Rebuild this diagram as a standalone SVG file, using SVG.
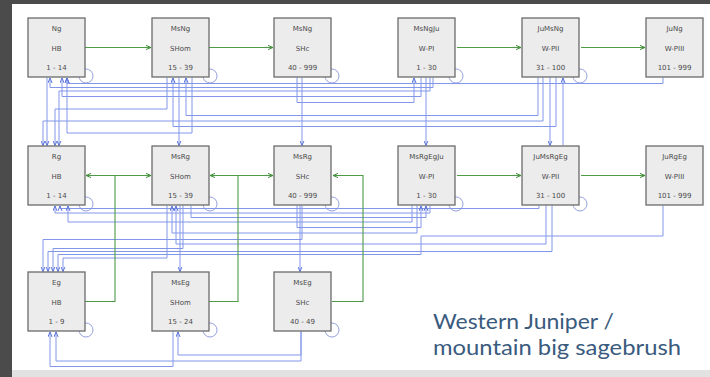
<svg xmlns="http://www.w3.org/2000/svg" width="710" height="377" viewBox="0 0 710 377">
<style>
.box{fill:#ececec;stroke:#6b6b6b;stroke-width:1.3}
.t{font-family:"DejaVu Sans",Verdana,sans-serif;font-size:7px;fill:#4a4a4a;text-anchor:middle}
.b{fill:none;stroke:#8297ea;stroke-width:1}
.g{fill:none;stroke:#4f9a47;stroke-width:1.1}
.loop{fill:none;stroke:#95a1dc;stroke-width:1}
.ttl{font-family:Lato,"Open Sans",sans-serif;font-size:21px;fill:#3a5a7e}
</style>
<defs>
<marker id="ab" viewBox="0 0 6 6" refX="6" refY="3" markerWidth="5" markerHeight="5" markerUnits="userSpaceOnUse" orient="auto"><path d="M0,0.5 L6,3 L0,5.5" fill="none" stroke="#5c73d8" stroke-width="1.2"/></marker>
<marker id="ag" viewBox="0 0 6 6" refX="6" refY="3" markerWidth="5" markerHeight="5" markerUnits="userSpaceOnUse" orient="auto"><path d="M0,0.5 L6,3 L0,5.5" fill="none" stroke="#3d8a36" stroke-width="1.2"/></marker>
</defs>
<rect x="0" y="0" width="710" height="377" fill="#4b4b4b"/>
<rect x="12" y="4" width="698" height="366" fill="#ffffff"/>
<rect x="12" y="370" width="698" height="7" fill="#e2e2e2"/>

<g id="connectors">
<g id="loops">
<circle class="loop" cx="86" cy="76" r="7"/>
<circle class="loop" cx="210" cy="76" r="7"/>
<circle class="loop" cx="332" cy="76" r="7"/>
<circle class="loop" cx="456" cy="76" r="7"/>
<circle class="loop" cx="580" cy="76" r="7"/>
<circle class="loop" cx="86" cy="204" r="7"/>
<circle class="loop" cx="210" cy="204" r="7"/>
<circle class="loop" cx="332" cy="204" r="7"/>
<circle class="loop" cx="456" cy="204" r="7"/>
<circle class="loop" cx="580" cy="204" r="7"/>
<circle class="loop" cx="86" cy="330" r="7"/>
<circle class="loop" cx="210" cy="330" r="7"/>
<circle class="loop" cx="332" cy="330" r="7"/>
</g>
<g id="blue" marker-end="url(#ab)">
<path class="b" d="M663,77.5 V83.5 H67 V78"/>
<path class="b" d="M192,77.5 V133 H67 V78"/>
<path class="b" d="M433,77.5 V87.5 H50 V78"/>
<path class="b" d="M430,77.5 V91 H59 V145.5"/>
<path class="b" d="M421,77.5 V96.5 H62 V78"/>
<path class="b" d="M297,77.5 V102.5 H414 V78"/>
<path class="b" d="M167,77.5 V109 H55 V145.5"/>
<path class="b" d="M538,77.5 V115.5 H186 V78"/>
<path class="b" d="M543,77.5 V121 H43 V145.5"/>
<path class="b" d="M556,77.5 V126.5 H173 V78"/>
<path class="b" d="M179,77.5 V145.5"/>
<path class="b" d="M302,77.5 V145.5"/>
<path class="b" d="M426,77.5 V145.5"/>
<path class="b" d="M550,77.5 V145.5"/>
<path class="b" d="M563,145.5 V78"/>
<path class="b" d="M47,77.5 V145.5"/>

<path class="b" d="M539,205.5 V208.5 H60 V206"/>
<path class="b" d="M430,205.5 V213 H55 V206"/>
<path class="b" d="M191,205.5 V217.5 H426 V206"/>
<path class="b" d="M412,205.5 V222 H68 V206"/>
<path class="b" d="M297,205.5 V227.5 H421 V206"/>
<path class="b" d="M417,205.5 V233 H172 V206"/>
<path class="b" d="M663,205.5 V236 H421 V254.5 H58 V271.5"/>
<path class="b" d="M302,205.5 V239.5 H43 V271.5"/>
<path class="b" d="M546,205.5 V244 H176 V206"/>
<path class="b" d="M183,205.5 V248.5 H53 V271.5"/>
<path class="b" d="M552,205.5 V251.5 H48 V271.5"/>
<path class="b" d="M167,205.5 V258 H63 V271.5"/>
<path class="b" d="M180,205.5 V271.5"/>
<path class="b" d="M300,205.5 V271.5"/>

<path class="b" d="M301,331.5 V355 H178 V332"/>
<path class="b" d="M301,331.5 V361 H56 V332"/>
<path class="b" d="M173,331.5 V366.5 H50 V332"/>
</g>
<g id="green" marker-end="url(#ag)">
<path class="g" d="M85,47.5 H151"/>
<path class="g" d="M209,47.5 H273"/>
<path class="g" d="M457,47.5 H521"/>
<path class="g" d="M581,47.5 H645"/>
<path class="g" d="M85,301.5 H115 V175.5 H86"/>
<path class="g" d="M115,175.5 H151"/>
<path class="g" d="M209,301.5 H238 V175.5 H210"/>
<path class="g" d="M238,175.5 H273"/>
<path class="g" d="M332,301.5 H363 V175.5 H333"/>
<path class="g" d="M457,175.5 H521"/>
<path class="g" d="M581,175.5 H645"/>
</g>
</g>

<g id="Ng"><rect class="box" x="28" y="18" width="57" height="59"/><text class="t" x="56.5" y="31">Ng</text><text class="t" x="56.5" y="50.5">HB</text><text class="t" x="56.5" y="70">1 - 14</text></g>
<g id="MsNg"><rect class="box" x="152" y="18" width="57" height="59"/><text class="t" x="180.5" y="31">MsNg</text><text class="t" x="180.5" y="50.5">SHom</text><text class="t" x="180.5" y="70">15 - 39</text></g>
<g id="MsNg-SHc"><rect class="box" x="274" y="18" width="57" height="59"/><text class="t" x="302.5" y="31">MsNg</text><text class="t" x="302.5" y="50.5">SHc</text><text class="t" x="302.5" y="70">40 - 999</text></g>
<g id="MsNgJu"><rect class="box" x="398" y="18" width="57" height="59"/><text class="t" x="426.5" y="31">MsNgJu</text><text class="t" x="426.5" y="50.5">W-PI</text><text class="t" x="426.5" y="70">1 - 30</text></g>
<g id="JuMsNg"><rect class="box" x="522" y="18" width="57" height="59"/><text class="t" x="550.5" y="31">JuMsNg</text><text class="t" x="550.5" y="50.5">W-PII</text><text class="t" x="550.5" y="70">31 - 100</text></g>
<g id="JuNg"><rect class="box" x="646" y="18" width="57" height="59"/><text class="t" x="674.5" y="31">JuNg</text><text class="t" x="674.5" y="50.5">W-PIII</text><text class="t" x="674.5" y="70">101 - 999</text></g>

<g id="Rg"><rect class="box" x="28" y="146" width="57" height="59"/><text class="t" x="56.5" y="159">Rg</text><text class="t" x="56.5" y="178.5">HB</text><text class="t" x="56.5" y="198">1 - 14</text></g>
<g id="MsRg"><rect class="box" x="152" y="146" width="57" height="59"/><text class="t" x="180.5" y="159">MsRg</text><text class="t" x="180.5" y="178.5">SHom</text><text class="t" x="180.5" y="198">15 - 39</text></g>
<g id="MsRg-SHc"><rect class="box" x="274" y="146" width="57" height="59"/><text class="t" x="302.5" y="159">MsRg</text><text class="t" x="302.5" y="178.5">SHc</text><text class="t" x="302.5" y="198">40 - 999</text></g>
<g id="MsRgEgJu"><rect class="box" x="398" y="146" width="57" height="59"/><text class="t" x="426.5" y="159">MsRgEgJu</text><text class="t" x="426.5" y="178.5">W-PI</text><text class="t" x="426.5" y="198">1 - 30</text></g>
<g id="JuMsRgEg"><rect class="box" x="522" y="146" width="57" height="59"/><text class="t" x="550.5" y="159">JuMsRgEg</text><text class="t" x="550.5" y="178.5">W-PII</text><text class="t" x="550.5" y="198">31 - 100</text></g>
<g id="JuRgEg"><rect class="box" x="646" y="146" width="57" height="59"/><text class="t" x="674.5" y="159">JuRgEg</text><text class="t" x="674.5" y="178.5">W-PIII</text><text class="t" x="674.5" y="198">101 - 999</text></g>

<g id="Eg"><rect class="box" x="28" y="272" width="57" height="59"/><text class="t" x="56.5" y="285">Eg</text><text class="t" x="56.5" y="304.5">HB</text><text class="t" x="56.5" y="324">1 - 9</text></g>
<g id="MsEg"><rect class="box" x="152" y="272" width="57" height="59"/><text class="t" x="180.5" y="285">MsEg</text><text class="t" x="180.5" y="304.5">SHom</text><text class="t" x="180.5" y="324">15 - 24</text></g>
<g id="MsEg-SHc"><rect class="box" x="274" y="272" width="57" height="59"/><text class="t" x="302.5" y="285">MsEg</text><text class="t" x="302.5" y="304.5">SHc</text><text class="t" x="302.5" y="324">40 - 49</text></g>

<g id="title">
<text class="ttl" x="433" y="329" textLength="181" lengthAdjust="spacingAndGlyphs">Western Juniper /</text>
<text class="ttl" x="433" y="355" textLength="248" lengthAdjust="spacingAndGlyphs">mountain big sagebrush</text>
</g>
</svg>
